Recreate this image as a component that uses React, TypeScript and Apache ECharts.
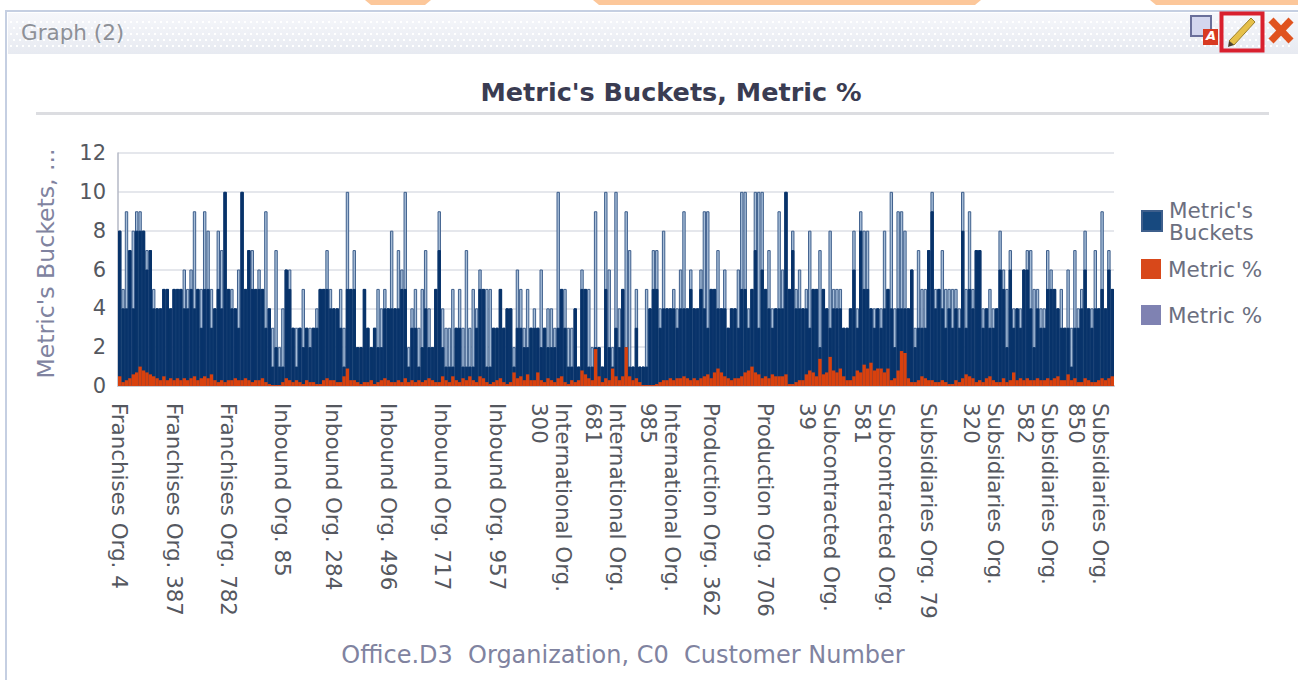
import React, { useEffect, useRef } from "react";
import * as echarts from "echarts";

const tickLabels = [
  "Franchises Org. 4", "Franchises Org. 387", "Franchises Org. 782", "Inbound Org. 85", "Inbound Org. 284",
  "Inbound Org. 496", "Inbound Org. 717", "Inbound Org. 957", "International Org.\n300", "International Org.\n681",
  "International Org.\n985", "Production Org. 362", "Production Org. 706", "Subcontracted Org.\n39",
  "Subcontracted Org.\n581", "Subsidiaries Org. 79", "Subsidiaries Org.\n320", "Subsidiaries Org.\n582", "Subsidiaries Org.\n850",
];
// Which bar carries each tick label
const tickBars = [0, 16, 32, 48, 63, 79, 95, 111, 127, 143, 159, 174, 190, 206, 222, 238, 254, 270, 285];

// Top of each thin bar (light part)
const bucketTops = [
  8,5,9,7,8,9,9,8,7,7, 5,4,4,5,5,4,5,5,5,6, 5,6,9,5,5,9,8,5,4,8, 7,10,5,5,4,6,10,5,7,7,
  5,6,5,9,4,3,7,2,4,6, 6,3,3,3,5,3,3,3,4,5, 5,7,5,4,4,5,3,10,5,7, 2,2,5,3,2,3,5,4,5,4,
  8,4,7,6,10,2,4,5,3,5, 7,4,2,5,9,4,3,3,5,3, 5,3,7,3,5,4,6,5,5,5, 3,3,5,3,4,4,2,6,5,3,
  5,3,4,3,6,3,4,4,3,10, 5,5,3,3,4,1,6,5,5,2, 9,2,1,10,6,2,10,4,5,9, 7,1,5,1,1,5,4,7,7,4,
  8,4,4,5,4,6,9,4,6,4, 4,6,9,9,5,5,7,4,6,3, 4,4,6,10,10,4,5,10,10,10, 5,7,4,4,9,6,10,5,8,5,
  6,4,5,8,5,5,7,5,4,8, 5,5,5,3,3,4,8,4,9,8, 8,4,4,4,4,8,5,10,4,9, 9,8,4,6,3,7,5,5,7,10,
  5,5,7,5,5,5,5,4,10,5, 9,5,7,7,4,4,5,4,4,8, 6,5,7,4,4,4,6,7,7,5, 5,4,4,7,6,5,4,5,3,6,
  3,7,4,5,8,4,4,7,4,9, 4,7,5,
];

// Solid navy height of each bar
const bucketSolid = [
  8,4,4,7,4,8,8,8,6,7, 4,4,4,5,5,4,5,5,5,4, 4,5,4,5,3,5,5,3,4,5, 4,10,5,4,4,3,10,5,7,5,
  5,5,5,3,4,1,2,1,1,6, 5,3,1,3,2,3,2,3,3,5, 5,5,4,4,4,3,1,5,5,5, 2,2,5,3,2,3,2,2,4,4,
  4,4,4,5,5,1,3,3,1,2, 4,2,2,5,7,2,1,1,1,3, 3,1,1,1,1,3,5,5,1,1, 3,3,5,3,4,4,1,3,3,2,
  2,3,3,3,2,3,2,2,2,3, 5,3,1,1,4,1,5,5,1,1, 2,2,1,5,2,1,3,2,5,2, 1,1,3,1,1,1,4,5,5,3,
  4,4,4,4,3,4,4,4,5,4, 4,5,4,3,5,5,4,4,4,3, 4,4,3,5,5,3,5,7,3,6, 5,4,3,4,4,4,10,5,7,4,
  4,4,4,3,5,5,2,5,4,3, 4,4,4,3,3,4,6,3,8,5, 5,4,3,4,3,4,5,4,2,4, 4,4,4,6,2,3,3,3,7,9,
  4,5,4,3,4,3,4,3,8,3, 5,4,7,7,3,4,3,3,4,6, 5,2,6,3,4,3,6,6,4,2, 4,3,3,5,5,5,4,3,3,3,
  1,3,3,4,6,4,3,4,4,5, 4,6,5,
];

// Orange series
const metricPct = [
  .5,.2,.3,.4,.6,.7,1,.8,.7,.6, .5,.4,.3,.5,.3,.4,.3,.4,.3,.4, .3,.4,.5,.3,.4,.5,.4,.6,.3,.2, .3,.2,.3,.3,.4,.3,.3,.4,.3,.2,
  .3,.3,.4,.2,.1,.05,.05,.05,.2,.4, .3,.2,.3,.2,.1,.3,.2,.2,.1,.1, .3,.4,.3,.3,.2,.2,.5,.9,.3,.3, .2,.1,.2,.2,.3,.1,.2,.3,.4,.3,
  .2,.2,.3,.2,.4,.2,.3,.2,.3,.2, .3,.4,.3,.2,.2,.5,.3,.2,.5,.3, .2,.4,.3,.5,.3,.2,.5,.4,.2,.1, .2,.3,.4,.2,.1,.2,.7,.4,.5,.3,
  .6,.3,.3,.7,.3,.2,.4,.3,.2,.4, .5,.2,.1,.3,.2,.3,.8,.6,.4,.3, 1.9,.5,.2,.4,.3,.9,.5,.3,.5,2, .5,.3,.4,.2,.05,.05,.05,.05,.1,.2,
  .3,.3,.4,.3,.4,.4,.5,.4,.3,.4, .3,.4,.5,.6,.4,.7,.9,.7,.5,.4, .3,.4,.4,.5,.7,.8,1,.7,.6,.4, .5,.4,.6,.5,.5,.5,.6,.1,.1,.2,
  .3,.3,.6,.8,.7,.5,1.4,.6,.7,1.5, .8,.7,.9,.5,.3,.3,.5,.8,.7,1.1, .9,1.2,.8,.9,.9,.7,.9,.3,.4,.8, 1.8,1.7,.4,.2,.2,.3,.5,.4,.3,.3,
  .2,.2,.3,.2,.1,.1,.3,.2,.4,.6, .5,.4,.2,.3,.2,.4,.5,.3,.2,.2, .4,.2,.3,.7,.3,.4,.3,.4,.3,.3, .4,.3,.3,.4,.3,.4,.5,.3,.3,.6,
  .3,.4,.2,.2,.4,.3,.2,.2,.3,.4, .3,.4,.5,
];

const categories = bucketTops.map((_, i) => {
  const k = tickBars.indexOf(i);
  return k >= 0 ? tickLabels[k] : "";
});

const TXT = "DejaVu Sans";

export default function App() {
  const ref = useRef<HTMLDivElement>(null);
  useEffect(() => {
    const chart = echarts.init(ref.current!, null, { renderer: "svg" });
    const dots = [22, 28, 34, 40, 46].map((y, k) => ({
      type: "line",
      silent: true,
      shape: { x1: 10 + (k % 2) * 3, y1: y, x2: 1290, y2: y },
      style: { stroke: "#ffffff", lineWidth: 2, lineDash: [2, 4] },
    }));
    const legendBase = { left: 1136, orient: "vertical", icon: "rect", itemWidth: 20, itemHeight: 20, itemGap: 0 };
    chart.setOption({
      animation: false,
      backgroundColor: "#ffffff",
      title: {
        text: "Metric's Buckets, Metric %",
        left: 666,
        top: 74,
        textAlign: "center",
        textStyle: { fontFamily: TXT, fontSize: 25.5, fontWeight: "bold", color: "#3a3c52" },
      },
      grid: { left: 118, right: 184, top: 153, bottom: 294 },
      legend: [
        {
          ...legendBase, top: 194,
          textStyle: { fontFamily: TXT, fontSize: 21.5, lineHeight: 22, color: "#6c6f80", padding: [0, 0, 0, 2] },
          data: [{ name: "Metric's\nBuckets", itemStyle: { color: "#17497f" } }],
        },
        {
          ...legendBase, top: 253,
          textStyle: { fontFamily: TXT, fontSize: 21.5, color: "#6c6f80", padding: [0, 0, 0, 2] },
          data: [{ name: "Metric %", itemStyle: { color: "#d8481a" } }],
        },
        {
          ...legendBase, top: 299,
          textStyle: { fontFamily: TXT, fontSize: 21.5, color: "#6c6f80", padding: [0, 0, 0, 2] },
          data: [{ name: "Metric % ", itemStyle: { color: "#7f82b2" } }],
        },
      ],
      xAxis: {
        type: "category",
        data: categories,
        name: "Office.D3  Organization, C0  Customer Number",
        nameLocation: "middle",
        nameGap: 257,
        nameTextStyle: { fontFamily: TXT, fontSize: 24, color: "#8083a0", padding: [0, 0, 0, 14] },
        axisTick: { show: false },
        axisLine: { show: true, lineStyle: { color: "#c9ccd4", width: 2 } },
        axisLabel: {
          interval: 0,
          rotate: -90,
          margin: 17,
          fontFamily: TXT,
          fontSize: 21.4,
          lineHeight: 24,
          color: "#55585f",
        },
      },
      yAxis: {
        type: "value",
        min: 0,
        max: 12,
        interval: 2,
        name: "Metric's Buckets, ...",
        nameLocation: "middle",
        nameGap: 60,
        nameTextStyle: { fontFamily: TXT, fontSize: 23.6, color: "#8083a0", padding: [0, 0, 0, 12] },
        axisLine: { show: true, lineStyle: { color: "#b4b8c6", width: 1.5 } },
        axisTick: { show: false },
        axisLabel: { fontFamily: TXT, fontSize: 21, margin: 12, color: "#55585f" },
        splitLine: { lineStyle: { color: "#dcdfe6", width: 1.5 } },
      },
      series: [
        {
          name: "Metric's\nBuckets",
          type: "bar",
          barCategoryGap: 0,
          barGap: "-100%",
          data: bucketTops,
          itemStyle: { color: "#a6bdd8", borderColor: "#3e5f8c", borderWidth: 1 },
        },
        {
          name: "Metric's\nBuckets",
          type: "bar",
          barGap: "-100%",
          data: bucketSolid,
          itemStyle: { color: "#08336a", borderColor: "#08336a", borderWidth: 1 },
        },
        {
          name: "Metric %",
          type: "bar",
          barGap: "-100%",
          data: metricPct,
          itemStyle: { color: "#d8410e" },
        },
        { name: "Metric % ", type: "bar", barGap: "-100%", data: [], itemStyle: { color: "#7f82b2" } },
      ],
      graphic: [
        { type: "rect", silent: true, z: -1, shape: { x: 6, y: 11, width: 1400, height: 800 }, style: { fill: "#fff", stroke: "#c5cfe2", lineWidth: 2 } },
        { type: "polygon", silent: true, shape: { points: [[365, 0], [431, 0], [425, 5], [371, 5]] }, style: { fill: "#fcc79a" } },
        { type: "polygon", silent: true, shape: { points: [[593, 0], [981, 0], [975, 5], [599, 5]] }, style: { fill: "#fcc79a" } },
        { type: "polygon", silent: true, shape: { points: [[1150, 0], [1298, 0], [1298, 5], [1156, 5]] }, style: { fill: "#fcc79a" } },
        {
          type: "rect", silent: true, shape: { x: 8, y: 13, width: 1290, height: 41 },
          style: {
            fill: new echarts.graphic.LinearGradient(0, 0, 0, 1, [
              { offset: 0, color: "#f6f7fb" },
              { offset: 1, color: "#e7eaf1" },
            ]),
          },
        },
        ...dots,
        { type: "text", silent: true, x: 21, y: 21, style: { text: "Graph (2)", fontFamily: TXT, fontSize: 21.5, fill: "#8d9097" } },
        { type: "rect", silent: true, shape: { x: 36, y: 112, width: 1233, height: 3 }, style: { fill: "#dcdde1" } },
        // toolbar icons
        { type: "rect", silent: true, shape: { x: 1191, y: 16, width: 20, height: 20 }, style: { fill: "#d3d6ee", stroke: "#6a6f9a", lineWidth: 2 } },
        { type: "rect", silent: true, shape: { x: 1203, y: 29, width: 15, height: 16 }, style: { fill: "#d83a22" } },
        { type: "text", silent: true, x: 1206, y: 29, style: { text: "A", fontFamily: TXT, fontSize: 13, fontWeight: "bold", fontStyle: "italic", fill: "#ffffff" } },
        { type: "rect", silent: true, shape: { x: 1221.5, y: 13.5, width: 41, height: 37 }, style: { fill: "none", stroke: "#d9202e", lineWidth: 4 } },
        { type: "polygon", silent: true, shape: { points: [[1251, 18], [1255, 22], [1234, 45], [1229, 41]] }, style: { fill: "#e6c04a", stroke: "#9c7f2a", lineWidth: 1 } },
        { type: "polygon", silent: true, shape: { points: [[1229, 41], [1234, 45], [1228, 47]] }, style: { fill: "#4a4030" } },
        { type: "line", silent: true, shape: { x1: 1271, y1: 20, x2: 1291, y2: 41 }, style: { stroke: "#e0531f", lineWidth: 7 } },
        { type: "line", silent: true, shape: { x1: 1291, y1: 20, x2: 1271, y2: 41 }, style: { stroke: "#e0531f", lineWidth: 7 } },
      ],
    });
    return () => chart.dispose();
  }, []);
  return <div ref={ref} style={{ position: "absolute", left: 0, top: 0, width: 1298, height: 680 }} />;
}
